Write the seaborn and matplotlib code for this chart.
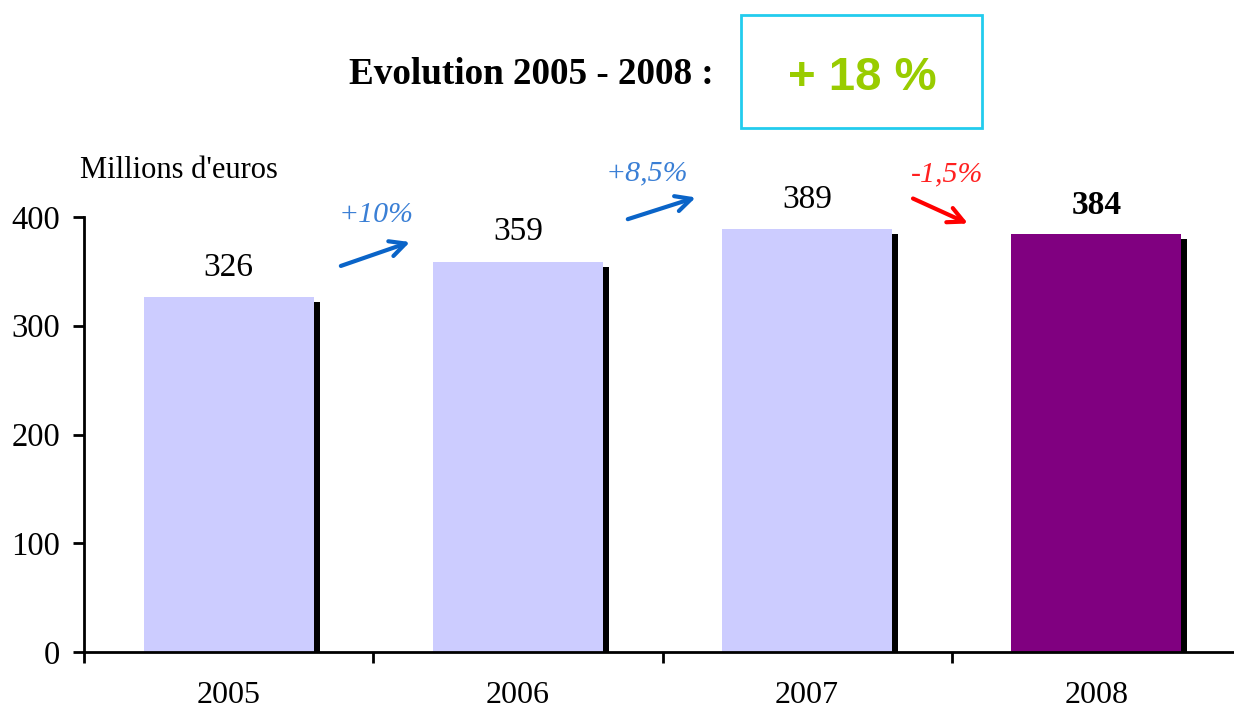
import numpy as np
import matplotlib
matplotlib.use("Agg")
import matplotlib.pyplot as plt
from matplotlib.patches import Rectangle
import seaborn as sns

# data
years = ["2005", "2006", "2007", "2008"]
values = [326, 359, 389, 384]
bar_colors = ["#CCCCFF", "#CCCCFF", "#CCCCFF", "#800080"]
growth_labels = ["+10%", "+8,5%", "-1,5%"]
growth_colors = ["#3A7FD5", "#3A7FD5", "#FF2020"]
arrow_colors = ["#0A64C8", "#0A64C8", "#FF0000"]

sns.set_style("white")
plt.rcParams["font.family"] = ["Liberation Serif", "DejaVu Serif"]
plt.rcParams["text.color"] = "black"
plt.rcParams["xtick.color"] = "black"
plt.rcParams["ytick.color"] = "black"
plt.rcParams["axes.labelcolor"] = "black"

W, H = 1234, 711
fig = plt.figure(figsize=(W / 100, H / 100), dpi=100)
# axes placed in pixel terms: x from 84 to 1241, y from 217 (400) to 652 (0)
ax = fig.add_axes([84 / W, (H - 652) / H, (1241 - 84) / W, (652 - 217) / H])

bar_w = 0.588
sns.barplot(x=years, y=values, hue=years, palette=bar_colors, legend=False,
            width=bar_w, saturation=1, linewidth=0, ax=ax, zorder=2)

# black drop shadow behind each bar
x = np.arange(len(values))
dx = 6 / 289.3
dy = 5 / 1.0875
ax.bar(x + dx, np.array(values) - dy, width=bar_w, color="black", linewidth=0, zorder=1)

ax.set_xlim(-0.5, 3.5)
ax.set_ylim(0, 400)
ax.set_yticks([0, 100, 200, 300, 400])
ax.set_xlabel("")
ax.set_ylabel("")

for s in ["top", "right"]:
    ax.spines[s].set_visible(False)
for s in ["left", "bottom"]:
    ax.spines[s].set_linewidth(2)
    ax.spines[s].set_color("black")

# ticks between categories, labels centred
ax.set_xticks(np.arange(-0.5, 4.0, 1.0), minor=True)
ax.tick_params(axis="x", which="major", length=0, pad=21, labelsize=23, bottom=True)
ax.tick_params(axis="x", which="minor", length=8, width=2, direction="out",
               color="black", bottom=True)
ax.tick_params(axis="y", length=8, width=2, direction="out", color="black", pad=9,
               labelsize=23.5, left=True)

# value labels
for i, v in enumerate(values):
    ax.text(i, v + 27, str(v), ha="center", va="center", fontsize=24,
            fontweight="bold" if i == len(values) - 1 else "normal")

# growth arrows between bars
arrows = [((0.388, 355), (0.627, 377)),
          ((1.380, 398), (1.615, 418)),
          ((2.366, 417), (2.556, 394))]
label_pos = [(0.509, 402), (1.446, 440), (2.483, 439)]
for (start, end), lab, (lx, ly), tc, ac in zip(arrows, growth_labels, label_pos, growth_colors, arrow_colors):
    ax.annotate("", xy=end, xytext=start, annotation_clip=False,
                arrowprops=dict(arrowstyle="->", lw=3, color=ac, mutation_scale=28,
                                shrinkA=0, shrinkB=0))
    ax.text(lx, ly, lab, ha="center", va="center", fontsize=21.5, style="italic",
            color=tc, clip_on=False)

fig.text(80 / W, 1 - 170 / H, "Millions d'euros", ha="left", va="center", fontsize=22)

# headline
fig.text(531 / W, 1 - 75 / H, "Evolution 2005 - 2008 :", ha="center", va="center",
         fontsize=26.7, fontweight="bold")
fig.patches.append(Rectangle((741 / W, 1 - 128 / H), 241 / W, 113 / H,
                             transform=fig.transFigure, fill=False,
                             edgecolor="#22CCEE", lw=2))
fig.text(862 / W, 1 - 78 / H, "+ 18 %", ha="center", va="center", fontsize=34,
         fontweight="bold", color="#99CC00", family=["Liberation Sans", "DejaVu Sans"])

fig.savefig("out.png", dpi=100)
